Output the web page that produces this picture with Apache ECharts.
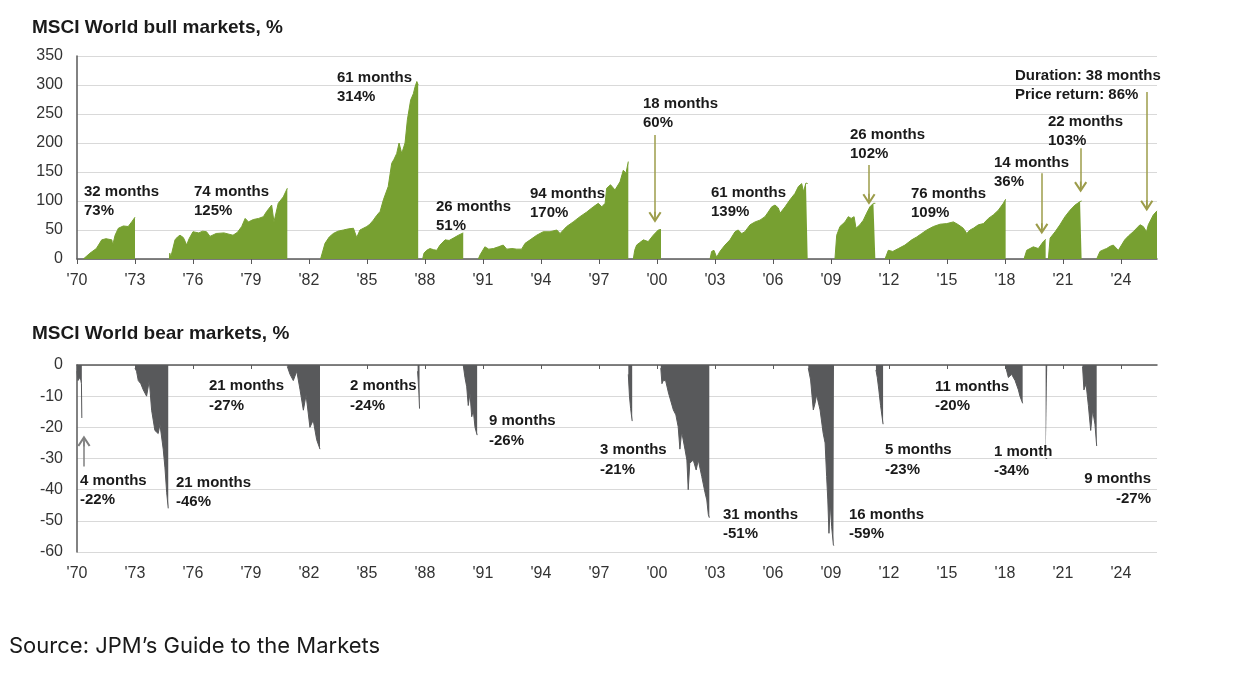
<!DOCTYPE html>
<html>
<head>
<meta charset="utf-8">
<title>MSCI World bull and bear markets</title>
<script src="https://cdn.jsdelivr.net/npm/echarts@6/dist/echarts.min.js"></script>
<style>
    html, body { margin: 0; padding: 0; background: #fff; }
    #chart { width: 1233px; height: 676px; }
</style>
</head>
<body>
<div id="chart"></div>
<script>
// Values, [year, % move from start of the cycle]
var tickYears = [1970, 1973, 1976, 1979, 1982, 1985, 1988, 1991, 1994, 1997,
                 2000, 2003, 2006, 2009, 2012, 2015, 2018, 2021, 2024];

var bull1970 = [[1970.33, 0], [1970.5, 5], [1970.67, 10], [1971.0, 18], [1971.28, 33], [1971.5, 35],
                [1971.8, 33], [1971.85, 24], [1971.97, 41], [1972.14, 53], [1972.4, 57], [1972.65, 56],
                [1972.83, 64], [1973.0, 72]];
var bull1974 = [[1974.78, 0], [1974.8, 10], [1974.85, 3], [1974.9, 4], [1975.07, 33], [1975.2, 38],
                [1975.33, 41], [1975.5, 37], [1975.6, 30], [1975.67, 24], [1975.8, 35], [1976.0, 47],
                [1976.3, 45], [1976.5, 48], [1976.7, 47], [1976.88, 39], [1977.2, 44], [1977.6, 45],
                [1978.07, 41], [1978.3, 46], [1978.52, 56], [1978.7, 70], [1978.87, 64], [1979.12, 68],
                [1979.4, 70], [1979.64, 73], [1979.81, 82], [1980.07, 93], [1980.19, 64], [1980.41, 96],
                [1980.67, 107], [1980.88, 122]];
var bull1982 = [[1982.6, 0], [1982.83, 27], [1983.05, 38], [1983.26, 44], [1983.5, 48], [1983.78, 50],
                [1984.05, 52], [1984.3, 53], [1984.47, 37], [1984.64, 50], [1984.99, 56], [1985.15, 60],
                [1985.33, 67], [1985.5, 75], [1985.68, 82], [1985.85, 102], [1986.1, 125], [1986.28, 165],
                [1986.4, 172], [1986.54, 182], [1986.66, 200], [1986.8, 182], [1986.97, 200], [1987.09, 240],
                [1987.26, 274], [1987.4, 285], [1987.49, 297], [1987.58, 306], [1987.65, 300]];
var bull1987 = [[1987.88, 0], [1987.95, 10], [1988.09, 15], [1988.26, 18], [1988.45, 16], [1988.61, 15],
                [1988.78, 24], [1989.04, 33], [1989.25, 32], [1989.47, 36], [1989.73, 41], [1989.98, 45]];
var bull1990 = [[1990.76, 0], [1990.85, 7], [1991.1, 21], [1991.3, 17], [1991.54, 18], [1991.8, 21],
                [1992.05, 24], [1992.23, 17], [1992.5, 18], [1992.75, 17], [1993.0, 17], [1993.18, 27],
                [1993.44, 33], [1993.78, 41], [1994.12, 47], [1994.47, 47], [1994.82, 50], [1994.99, 44],
                [1995.33, 56], [1995.67, 64], [1996.02, 73], [1996.37, 81], [1996.71, 90], [1996.97, 96],
                [1997.15, 90], [1997.32, 96], [1997.4, 122], [1997.6, 128], [1997.83, 119], [1998.09, 133],
                [1998.26, 153], [1998.4, 148], [1998.52, 168]];
var bull1998 = [[1998.78, 0], [1998.85, 15], [1998.95, 24], [1999.1, 28], [1999.3, 33], [1999.55, 30],
                [1999.81, 41], [2000.07, 50], [2000.21, 51]];
var bull2002 = [[2002.75, 0], [2002.83, 13], [2002.95, 15], [2003.09, 3], [2003.26, 13], [2003.52, 24],
                [2003.78, 33], [2004.04, 47], [2004.2, 50], [2004.39, 44], [2004.55, 47], [2004.82, 59],
                [2005.08, 64], [2005.33, 67], [2005.59, 73], [2005.76, 81], [2005.94, 90], [2006.11, 93],
                [2006.28, 88], [2006.37, 79], [2006.63, 90], [2006.88, 102], [2007.14, 113], [2007.32, 125],
                [2007.49, 130], [2007.58, 116], [2007.71, 131], [2007.8, 130]];
var bull2009 = [[2009.21, 0], [2009.3, 41], [2009.47, 56], [2009.73, 64], [2009.9, 73], [2010.05, 70],
                [2010.2, 73], [2010.3, 53], [2010.5, 59], [2010.68, 67], [2010.85, 79], [2011.02, 90],
                [2011.2, 96], [2011.3, 96]];
var bull2011 = [[2011.8, 0], [2011.97, 15], [2012.2, 13], [2012.49, 18], [2012.83, 24], [2013.18, 33],
                [2013.44, 38], [2013.7, 44], [2013.96, 50], [2014.3, 56], [2014.65, 60], [2014.99, 61],
                [2015.34, 64], [2015.6, 59], [2015.85, 53], [2016.03, 44], [2016.2, 50], [2016.37, 53],
                [2016.63, 59], [2016.89, 61], [2017.15, 70], [2017.4, 76], [2017.66, 84], [2017.92, 96],
                [2018.04, 103]];
var bull2018 = [[2018.99, 0], [2019.13, 15], [2019.47, 21], [2019.73, 18], [2019.99, 30], [2020.11, 34]];
var bull2020 = [[2020.25, 0], [2020.34, 36], [2020.6, 47], [2020.85, 59], [2021.11, 73], [2021.37, 84],
                [2021.63, 93], [2021.89, 99], [2021.97, 100]];
var bull2022 = [[2022.75, 0], [2022.92, 13], [2023.1, 16], [2023.26, 18], [2023.45, 22], [2023.61, 24],
                [2023.87, 15], [2024.2, 33], [2024.4, 40], [2024.64, 47], [2024.99, 59], [2025.16, 56],
                [2025.33, 47], [2025.42, 59], [2025.68, 76], [2025.87, 83]];

var bear1970 = [[1970.0, -2], [1970.05, -5], [1970.12, -4], [1970.2, -5], [1970.23, -6], [1970.25, -17]];
var bear1973 = [[1973.0, -1], [1973.08, -2], [1973.17, -5], [1973.3, -6], [1973.43, -8], [1973.6, -10],
                [1973.74, -5], [1973.86, -14.5], [1974.03, -21], [1974.2, -22], [1974.29, -19], [1974.46, -27],
                [1974.55, -33], [1974.64, -41], [1974.72, -46]];
var bear1980 = [[1980.88, -0.5], [1981.02, -3], [1981.19, -5], [1981.37, -2], [1981.54, -8], [1981.71, -14.5],
                [1981.85, -9.6], [1982.05, -20], [1982.22, -17.7], [1982.4, -24], [1982.57, -27]];
var bear1987 = [[1987.62, -2], [1987.68, -8], [1987.72, -14]];
var bear1990 = [[1989.98, 0], [1990.07, -4], [1990.16, -7], [1990.24, -13], [1990.33, -9], [1990.42, -16.6],
                [1990.5, -14.5], [1990.59, -20], [1990.7, -22.5]];
var bear1998 = [[1998.52, -3], [1998.58, -10], [1998.64, -14], [1998.72, -18]];
var bear2000 = [[2000.2, -1], [2000.26, -6], [2000.33, -5], [2000.45, -5], [2000.6, -9], [2000.85, -14.4],
                [2000.98, -16], [2001.1, -19.8], [2001.19, -27], [2001.28, -21.4], [2001.45, -27],
                [2001.55, -30.5], [2001.62, -40], [2001.7, -31.5], [2001.88, -30.5], [2002.03, -33.7],
                [2002.14, -30.5], [2002.32, -35.8], [2002.49, -41], [2002.58, -43.3], [2002.66, -48],
                [2002.71, -49]];
var bear2007 = [[2007.83, -1], [2007.95, -4.8], [2008.09, -14.4], [2008.18, -12.3], [2008.26, -9.6],
                [2008.44, -14.4], [2008.6, -21.9], [2008.7, -25], [2008.78, -35.8], [2008.84, -43.3],
                [2008.9, -54], [2008.97, -44.4], [2009.04, -51.9], [2009.13, -57.8], [2009.16, -58]];
var bear2011 = [[2011.33, -1.6], [2011.4, -4], [2011.48, -8], [2011.57, -13], [2011.7, -19]];
var bear2018 = [[2018.04, -0.5], [2018.18, -4], [2018.35, -3], [2018.53, -5], [2018.7, -8], [2018.78, -10],
                [2018.92, -12.3]];
var bear2020 = [[2020.11, -30], [2020.19, -30]];
var bear2022 = [[2022.02, -0.5], [2022.09, -8], [2022.2, -6], [2022.32, -13], [2022.44, -21], [2022.54, -14.5],
                [2022.66, -19], [2022.75, -26]];

var bullMarkets = [bull1970, bull1974, bull1982, bull1987, bull1990, bull1998,
                   bull2002, bull2009, bull2011, bull2018, bull2020, bull2022];
var bearMarkets = [bear1970, bear1973, bear1980, bear1987, bear1990, bear1998,
                   bear2000, bear2007, bear2011, bear2018, bear2020, bear2022];

var bullLabels = ['32 months\n73%', '74 months\n125%', '61 months\n314%', '26 months\n51%',
                  '94 months\n170%', '18 months\n60%', '61 months\n139%', '26 months\n102%',
                  '76 months\n109%', '14 months\n36%', '22 months\n103%',
                  'Duration: 38 months\nPrice return: 86%'];
var bearLabels = ['4 months\n-22%', '21 months\n-46%', '21 months\n-27%', '2 months\n-24%',
                  '9 months\n-26%', '3 months\n-21%', '31 months\n-51%', '16 months\n-59%',
                  '5 months\n-23%', '11 months\n-20%', '1 month\n-34%', '9 months\n-27%'];

// ---- layout ----
var GREEN = '#77a031';
var DARK = '#58595b';
var ARROW = '#9c9c4a';
var AXIS = '#595959';
var FONT = '"Liberation Sans", Arial, sans-serif';

// label anchor (left/top, px) for each annotation, same order as the texts
var bullLabelPos = [[84, 182], [194, 182.5], [337, 68], [436, 197], [530, 184.5], [643, 94],
                    [711, 183], [850, 125.5], [911, 184], [994, 153], [1048, 112], [1015, 66.5]];
var bearLabelPos = [[80, 471], [176, 473], [209, 376.5], [350, 376.5], [489, 411.5], [600, 440.5],
                    [723, 505], [849, 505], [885, 440.5], [935, 377], [994, 442], [1151, 469.5]];

// arrows in data units: [year, from, to]
var bullArrows = [[1999.9, 214, 72], [2010.97, 162, 103], [2019.91, 148, 52],
                  [2021.92, 191, 124], [2025.34, 288, 92]];
var bearArrows = [[1970.36, -32.6, -24.4]];

// chevron with a short stem, drawn pointing up (markLine rotates it)
var CHEVRON = 'path://M0,9 L6,0 L12,9 L10.4,10 L6,3.4 L1.6,10 Z M5.3,1 L6.7,1 L6.7,10 L5.3,10 Z';

var chart = echarts.init(document.getElementById('chart'));

function yearLabel(v) {
    return "'" + String(v).slice(2);
}

function segment(data, color, axisIndex) {
    return {
        type: 'line',
        xAxisIndex: axisIndex,
        yAxisIndex: axisIndex === 0 ? 0 : 1,
        data: data,
        symbol: 'none',
        silent: true,
        lineStyle: { color: color, width: 1 },
        areaStyle: { color: color, opacity: 1 }
    };
}

function arrowLine(arrows, color) {
    return {
        silent: true,
        symbol: ['none', CHEVRON],
        symbolSize: [13, 11],
        label: { show: false },
        emphasis: { disabled: true },
        lineStyle: { color: color, width: 1.5, type: 'solid' },
        data: arrows.map(function (a) {
            return [{ coord: [a[0], a[1]] }, { coord: [a[0], a[2]] }];
        })
    };
}

var series = [];
bullMarkets.forEach(function (d) { series.push(segment(d, GREEN, 0)); });
bearMarkets.forEach(function (d) { series.push(segment(d, DARK, 2)); });
series[0].markLine = arrowLine(bullArrows, ARROW);
series[bullMarkets.length].markLine = arrowLine(bearArrows, '#7f7f7f');

var texts = [];
function addText(str, x, y, font, align, lineHeight) {
    texts.push({
        type: 'text', x: x, y: y, z: 100, silent: true,
        style: {
            text: str, font: font, fill: '#1a1a1a',
            align: align || 'left', verticalAlign: lineHeight ? 'top' : 'middle',
            lineHeight: lineHeight || undefined
        }
    });
}
addText('MSCI World bull markets, %', 32, 28, 'bold 19px ' + FONT);
addText('MSCI World bear markets, %', 32, 334, 'bold 19px ' + FONT);
addText('Source: JPM\u2019s Guide to the Markets', 9, 646, '22px Inter, "Open Sans", sans-serif');
bullLabels.forEach(function (t, i) {
    addText(t, bullLabelPos[i][0], bullLabelPos[i][1], 'bold 15px ' + FONT, 'left', 19);
});
bearLabels.forEach(function (t, i) {
    addText(t, bearLabelPos[i][0], bearLabelPos[i][1], 'bold 15px ' + FONT,
            i === bearLabels.length - 1 ? 'right' : 'left', 19.5);
});

var xBase = {
    type: 'value',
    min: 1970,
    max: 2025.87,
    splitLine: { show: false },
    axisLine: { onZero: false, lineStyle: { color: AXIS, width: 1.5 } },
    axisTick: { customValues: tickYears, length: 5, lineStyle: { color: AXIS } },
    axisLabel: {
        customValues: tickYears, formatter: yearLabel,
        fontFamily: FONT, fontSize: 16, color: '#333', margin: 14
    }
};
function xAxisOf(extra) {
    return echarts.util.merge(echarts.util.clone(xBase), extra, true);
}

var option = {
    animation: false,
    grid: [
        { left: 77, right: 76, top: 56, height: 203 },
        { left: 77, right: 76, top: 365, height: 187 }
    ],
    xAxis: [
        xAxisOf({ gridIndex: 0 }),
        xAxisOf({ gridIndex: 1, position: 'top', axisTick: { inside: true, length: 4 },
                  axisLabel: { show: false } }),
        xAxisOf({ gridIndex: 1, position: 'bottom', axisLine: { show: false },
                  axisTick: { show: false } })
    ],
    yAxis: [
        {
            gridIndex: 0, type: 'value', min: 0, max: 350, interval: 50,
            axisLine: { show: true, lineStyle: { color: AXIS, width: 1.5 } },
            axisTick: { show: false },
            axisLabel: { fontFamily: FONT, fontSize: 16, color: '#333', margin: 14 },
            splitLine: { lineStyle: { color: '#d9d9d9' } }
        },
        {
            gridIndex: 1, type: 'value', min: -60, max: 0, interval: 10,
            axisLine: { show: true, lineStyle: { color: AXIS, width: 1.5 } },
            axisTick: { show: false },
            axisLabel: { fontFamily: FONT, fontSize: 16, color: '#333', margin: 14 },
            splitLine: { lineStyle: { color: '#d9d9d9' } }
        }
    ],
    graphic: texts,
    series: series
};

chart.setOption(option);
</script>
</body>
</html>
